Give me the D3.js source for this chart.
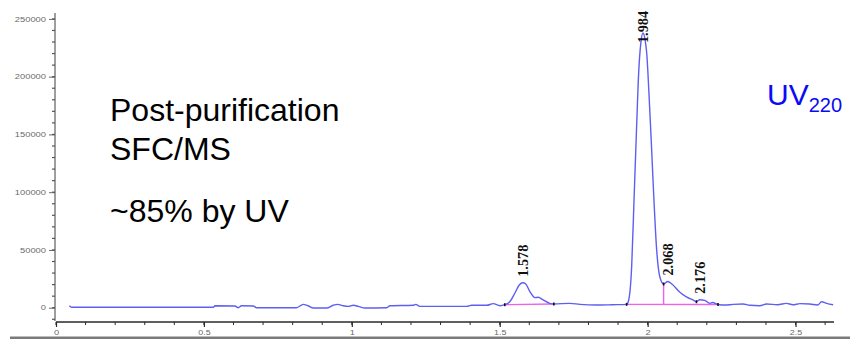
<!DOCTYPE html>
<html>
<head>
<meta charset="utf-8">
<script src="https://cdn.jsdelivr.net/npm/d3@7"></script>
<style>
  html, body { margin: 0; padding: 0; background: #fff; }
  svg { display: block; }
</style>
</head>
<body>
<svg id="chart" width="850" height="339"></svg>
<script>
// UV trace, retention time in minutes
const rtMin = [
  0.045, 0.053, 0.532, 0.537, 0.605, 0.616, 0.627, 0.667, 0.678, 0.813,
  0.836, 0.853, 0.870, 0.915, 0.937, 0.952, 0.971, 0.988, 1.005, 1.022,
  1.044, 1.118, 1.129, 1.208, 1.216, 1.230, 1.388, 1.405, 1.456, 1.478,
  1.501, 1.517, 1.534, 1.551, 1.566, 1.578, 1.588, 1.602, 1.619, 1.630,
  1.647, 1.669, 1.683, 1.737, 1.771, 1.825, 1.882, 1.929, 1.936, 1.946,
  1.954, 1.962, 1.970, 1.977, 1.984, 1.992, 1.997, 2.004, 2.013, 2.021,
  2.030, 2.041, 2.054, 2.068, 2.082, 2.108, 2.131, 2.153, 2.165, 2.176,
  2.193, 2.210, 2.220, 2.238, 2.261, 2.290, 2.322, 2.345, 2.379, 2.402,
  2.440, 2.469, 2.491, 2.515, 2.548, 2.575, 2.588, 2.605, 2.627
];
// UV absorbance signal (counts)
const uvSignal = [
  1700, 350, 350, 1700, 1500, 0, 1700, 1500, 0, 0,
  2900, 1500, -300, -300, 2100, 2900, 1700, 1200, 2100, 1200,
  -300, 0, 1700, 2100, 2900, 1200, 1200, 2100, 2100, 3500,
  1700, 2600, 5200, 12500, 19700, 21600, 20500, 13900, 8700, 9000,
  6700, 3800, 3200, 3800, 2900, 2300, 2600, 2900, 6700, 35500,
  93200, 151200, 205000, 229000, 237800, 231000, 220000, 188000, 140000, 95000,
  52000, 27000, 20500, 22700, 20500, 13600, 9300, 6700, 5200, 6900,
  6400, 3800, 4500, 2800, 2300, 2900, 3200, 2100, 1700, 3200,
  2600, 3800, 2600, 3500, 3200, 2400, 5200, 3800, 2600
];

// Peak apex labels (retention times)
const peakLabels = ["1.578", "1.984", "2.068", "2.176"];

// Integration baselines
const intStart = [1.517, 1.929];
const intEnd = [1.683, 2.238];
const intStartLevel = [2600, 2900];
const intEndLevel = [3200, 2800];
// Drop line splitting the main peak from its shoulder
const dropTimes = [2.054];
// Integration event marks
const eventTimes = [1.517, 1.683, 1.929, 2.054, 2.165, 2.238];

// Axis ticks
const yMajorTicks = [0, 50000, 100000, 150000, 200000, 250000];
const yMinorTicks = d3.range(-10000, 250001, 10000);
const xMajorTicks = [0, 0.5, 1, 1.5, 2, 2.5];
const xTickLabels = ["0", "0.5", "1", "1.5", "2", "2.5"];
const xMinorTicks = d3.range(0, 2.61, 0.1);

const svg = d3.select("#chart");

const x = d3.scaleLinear().domain([0, 2.63]).range([56, 834]);
const y = d3.scaleLinear().domain([-11500, 255200]).range([321, 12.9]);

const trace = rtMin.map((t, i) => ({ t, v: uvSignal[i] }));
const signalAt = t => {
  const i = rtMin.findIndex(r => Math.abs(r - t) < 1e-9);
  return uvSignal[i];
};

// bottom frame rule
svg.append("rect")
  .attr("x", 10).attr("y", 336.5).attr("width", 840).attr("height", 2.5)
  .attr("fill", "#7a7a7a");

// y axis
const yAxisG = svg.append("g").attr("transform", "translate(55,0)");
yAxisG.call(d3.axisLeft(y).tickValues(yMajorTicks).tickSize(6).tickPadding(3)
  .tickFormat(d3.format("d")));
yAxisG.select(".domain").attr("stroke", "#6a6a6a").attr("stroke-width", 1.3)
  .attr("d", `M0,${y.range()[1]}V${y.range()[0]}`);
yAxisG.selectAll(".tick line").attr("stroke", "#6a6a6a").attr("stroke-width", 1);
yAxisG.selectAll(".tick text")
  .attr("fill", "#6a6a6a")
  .style("font-family", "'Liberation Sans', Arial, sans-serif")
  .style("font-size", "7px")
  .each(function () {
    const s = d3.select(this).text();
    d3.select(this).attr("textLength", s.length * 5.2).attr("lengthAdjust", "spacingAndGlyphs");
  });
yAxisG.selectAll(".minor").data(yMinorTicks).join("line")
  .attr("class", "minor")
  .attr("x1", -3).attr("x2", 0)
  .attr("y1", d => y(d)).attr("y2", d => y(d))
  .attr("stroke", "#555").attr("stroke-width", 1.2);

// x axis
const xAxisG = svg.append("g").attr("transform", "translate(0,322)");
xAxisG.call(d3.axisBottom(x).tickValues(xMajorTicks).tickSize(5).tickPadding(3)
  .tickFormat((d, i) => xTickLabels[i]));
xAxisG.select(".domain").attr("stroke", "#2a2a2a").attr("stroke-width", 1.5)
  .attr("d", `M${x.range()[0]},0H${x.range()[1]}`);
xAxisG.selectAll(".tick line").attr("stroke", "#2a2a2a").attr("stroke-width", 1.2);
xAxisG.selectAll(".tick text")
  .attr("fill", "#6a6a6a")
  .style("font-family", "'Liberation Sans', Arial, sans-serif")
  .style("font-size", "7px")
  .each(function () {
    const s = d3.select(this).text();
    d3.select(this).attr("textLength", s.replace(".", "").length * 5.2 + (s.includes(".") ? 2 : 0))
      .attr("lengthAdjust", "spacingAndGlyphs");
  });
xAxisG.selectAll(".minor").data(xMinorTicks).join("line")
  .attr("class", "minor")
  .attr("x1", d => x(d)).attr("x2", d => x(d))
  .attr("y1", 0).attr("y2", 3)
  .attr("stroke", "#2a2a2a").attr("stroke-width", 1);

// integration baselines
const pink = "#f060ee";
svg.append("g").selectAll("line").data(intStart).join("line")
  .attr("x1", (d, i) => x(d)).attr("y1", (d, i) => y(intStartLevel[i]))
  .attr("x2", (d, i) => x(intEnd[i])).attr("y2", (d, i) => y(intEndLevel[i]))
  .attr("stroke", pink).attr("stroke-width", 1.4);

// drop lines
const baseAt = t => {
  for (let i = 0; i < intStart.length; i++) {
    if (t >= intStart[i] && t <= intEnd[i]) {
      const f = (t - intStart[i]) / (intEnd[i] - intStart[i]);
      return intStartLevel[i] + f * (intEndLevel[i] - intStartLevel[i]);
    }
  }
  return 0;
};
svg.append("g").selectAll("line").data(dropTimes).join("line")
  .attr("x1", d => x(d)).attr("x2", d => x(d))
  .attr("y1", d => y(baseAt(d))).attr("y2", d => y(signalAt(d)))
  .attr("stroke", pink).attr("stroke-width", 1.4);

// chromatogram trace
const line = d3.line().x(d => x(d.t)).y(d => y(d.v)).curve(d3.curveMonotoneX);
svg.append("path")
  .datum(trace)
  .attr("d", line)
  .attr("fill", "none")
  .attr("stroke", "#5e5ef3")
  .attr("stroke-width", 1.4)
  .attr("stroke-linejoin", "round");

// integration event marks
svg.append("g").selectAll("line").data(eventTimes).join("line")
  .attr("x1", d => x(d)).attr("x2", d => x(d))
  .attr("y1", d => y(signalAt(d)) - 1.5).attr("y2", d => y(signalAt(d)) + 1.5)
  .attr("stroke", "#111").attr("stroke-width", 1.6);

// peak retention-time labels
const labelLen = 32;
svg.append("g").selectAll("text").data(peakLabels).join("text")
  .attr("transform", d => {
    const t = +d;
    const bottom = Math.max(y(signalAt(t)) - 6, 10 + labelLen + 1);
    return `translate(${x(t)},${bottom}) rotate(-90)`;
  })
  .attr("dy", "0.36em")
  .attr("textLength", labelLen)
  .attr("lengthAdjust", "spacingAndGlyphs")
  .style("font-family", "'Liberation Serif', 'Times New Roman', serif")
  .style("font-weight", "bold")
  .style("font-size", "14px")
  .attr("fill", "#111")
  .text(d => d);

// annotations
const note = svg.append("g")
  .style("font-family", "'Liberation Sans', Arial, sans-serif")
  .style("font-size", "32px")
  .attr("fill", "#000");
note.append("text").attr("x", 110).attr("y", 121).text("Post-purification");
note.append("text").attr("x", 110).attr("y", 160).text("SFC/MS");
note.append("text").attr("x", 110).attr("y", 222).text("~85% by UV");

const uv = svg.append("text")
  .attr("x", 767).attr("y", 105)
  .attr("fill", "#0a0af5")
  .style("font-family", "'Liberation Sans', Arial, sans-serif")
  .style("font-size", "30px");
uv.append("tspan").text("UV");
uv.append("tspan").attr("dy", 7).style("font-size", "20px").text("220");
</script>
</body>
</html>
